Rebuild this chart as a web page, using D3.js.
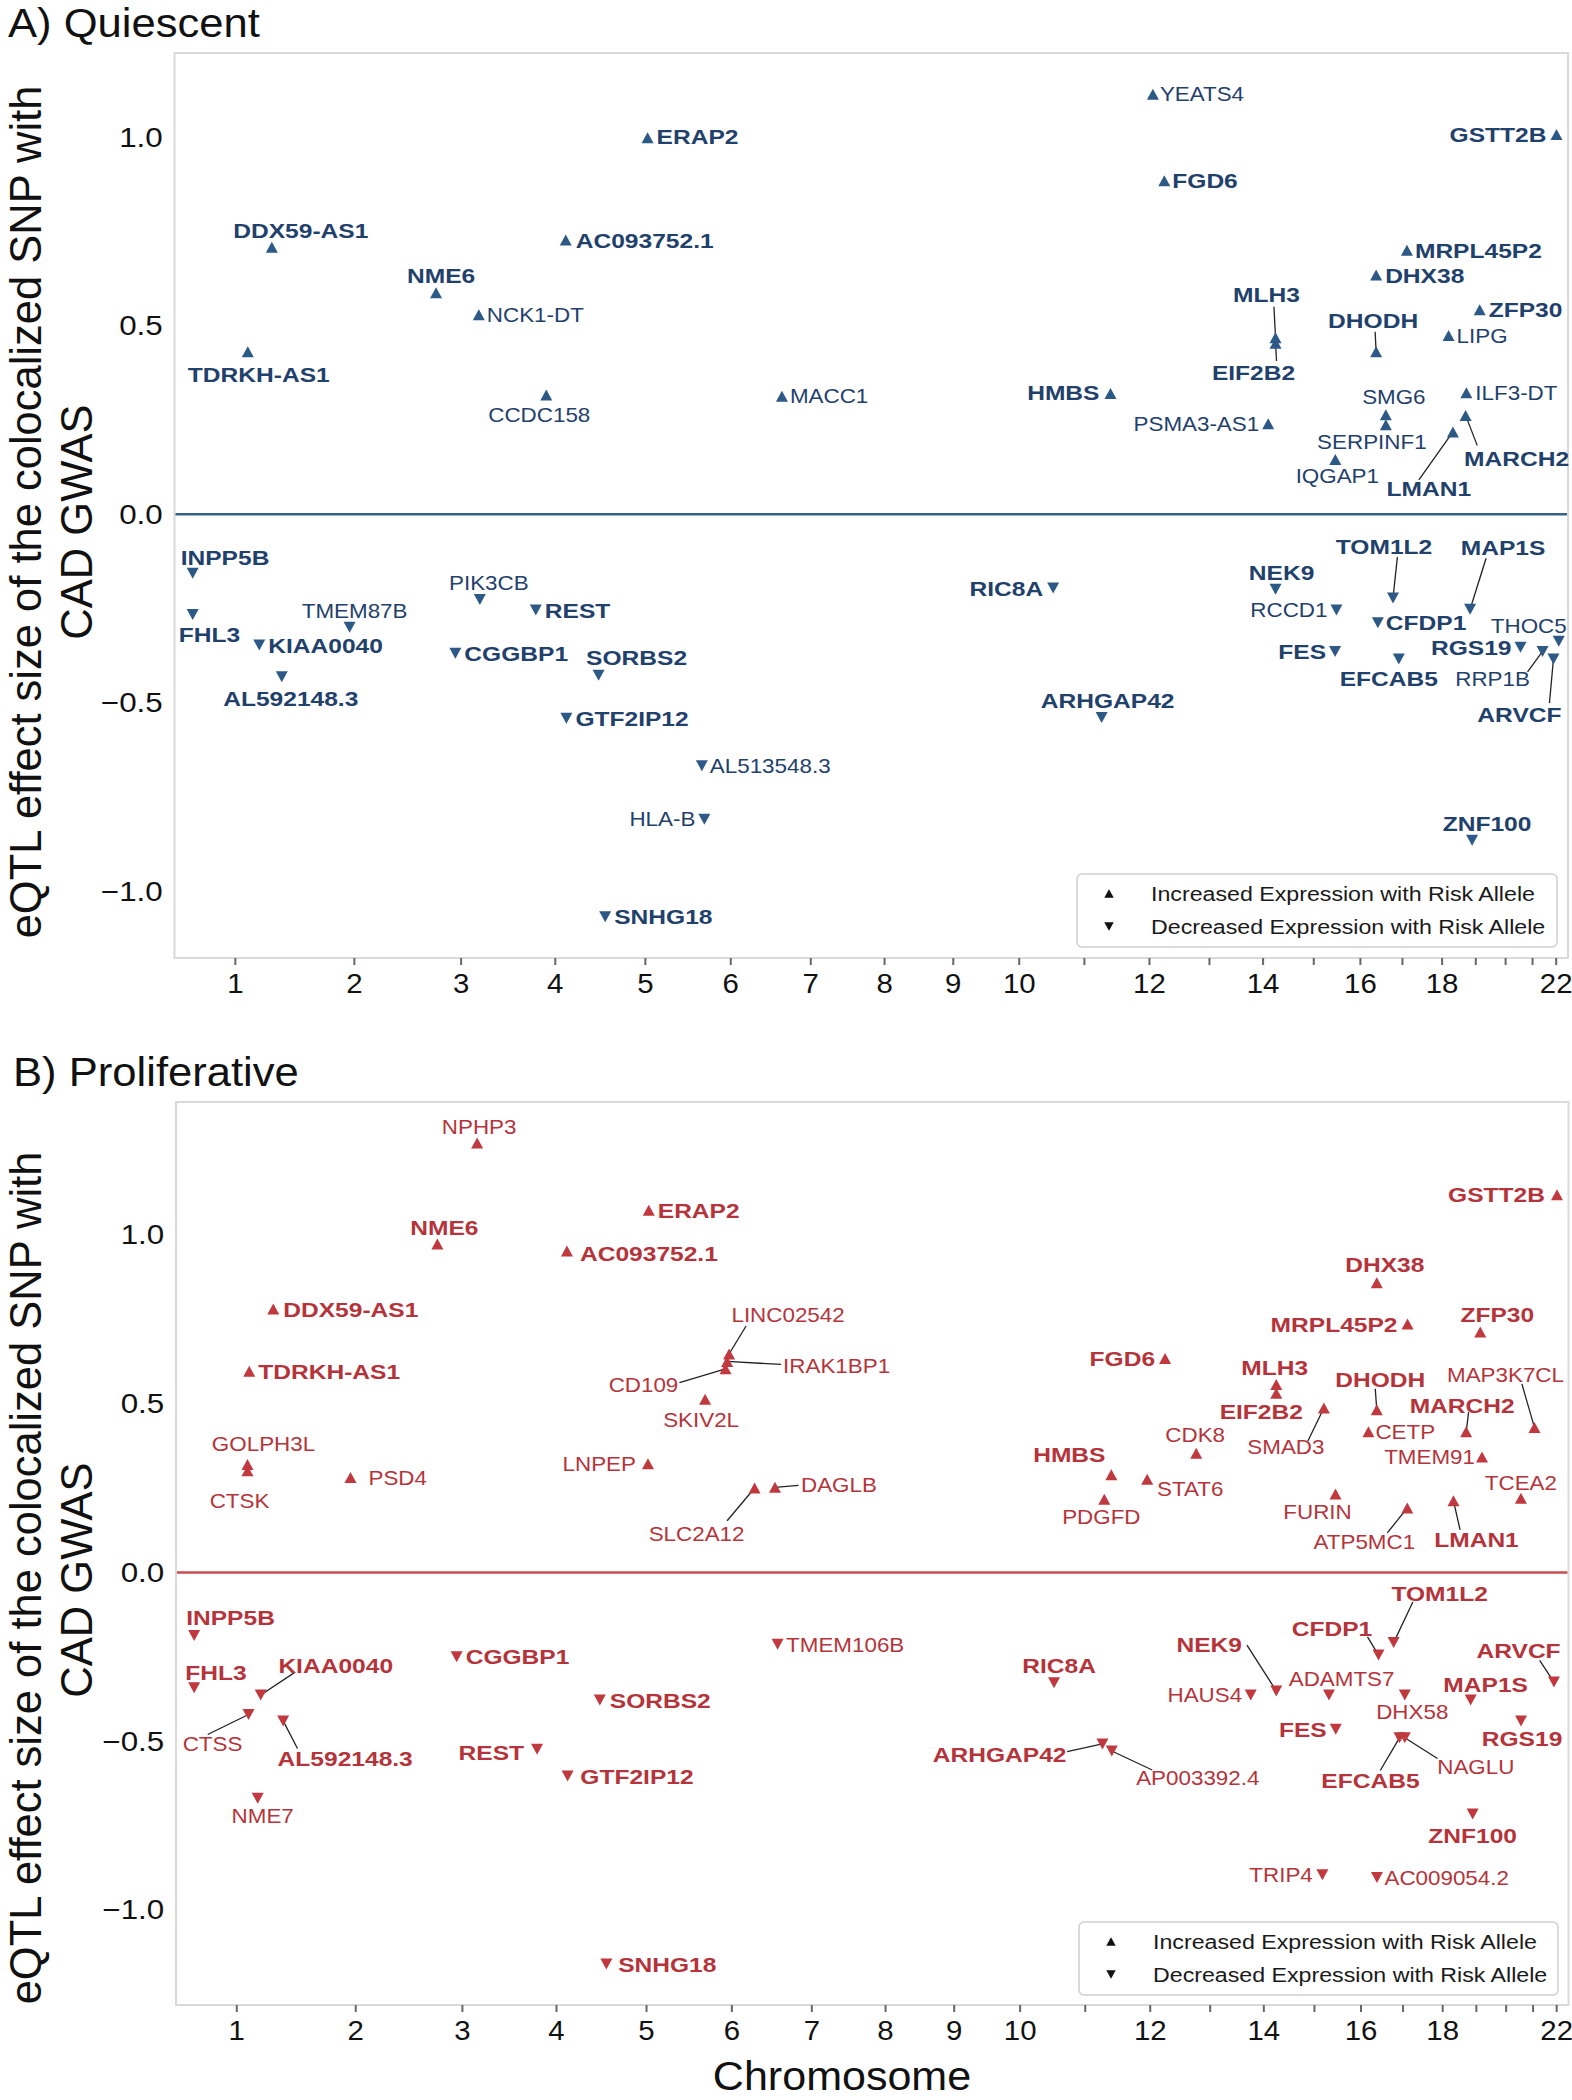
<!DOCTYPE html>
<html><head><meta charset="utf-8">
<script src="https://cdn.jsdelivr.net/npm/d3@7"></script>
<style>
html,body{margin:0;padding:0;background:#fff;}
svg{display:block;}
text{font-family:"Liberation Sans",Arial,Helvetica,sans-serif;}
</style></head><body>
<svg id="chart" width="1572" height="2100"></svg>
<script>
// ---------------- DATA ----------------
const chromosomes = d3.range(1, 23).map(String);
const chromLengthMb = [248.96,242.19,198.30,190.21,181.54,170.81,159.35,145.14,138.39,133.80,135.09,133.28,114.36,107.04,101.99,90.34,83.26,80.37,58.62,64.44,46.71,50.82];
const xTickLabels = ["1","2","3","4","5","6","7","8","9","10","","12","","14","","16","","18","","","","22"];
const yTickValues = [-1.0,-0.5,0.0,0.5,1.0];
const legendLabels = ["Increased Expression with Risk Allele","Decreased Expression with Risk Allele"];
const panelTitles = ["A) Quiescent","B) Proliferative"];
const yAxisTitle = ["eQTL effect size of the colocalized SNP with","CAD GWAS"];
const xAxisTitle = "Chromosome";

// gene, chromosome, position within chromosome (Mb)
const geneLoci = [
 ["INPP5B",1,37.5],["FHL3",1,37.5],["TDRKH-AS1",1,151.2],["KIAA0040",1,174.9],["DDX59-AS1",1,200.8],["AL592148.3",1,221.3],
 ["NME6",3,48.5],["CGGBP1",3,88.3],["REST",4,56.0],["AC093752.1",4,117.7],["GTF2IP12",4,119.1],["SORBS2",4,185.5],
 ["SNHG18",5,8.9],["ERAP2",5,96.4],["RIC8A",11,4.1],["ARHGAP42",11,104.1],["HMBS",11,122.4],["FGD6",12,98.3],
 ["MLH3",14,80.2],["EIF2B2",14,80.2],["NEK9",14,80.2],["FES",15,96.0],["DHX38",16,78.7],["DHODH",16,78.7],["CFDP1",16,82.3],
 ["TOM1L2",17,23.2],["EFCAB5",17,35.2],["MRPL45P2",17,51.9],["LMAN1",18,63.5],["MARCH2",19,9.3],["MAP1S",19,18.6],
 ["ZNF100",19,22.7],["ZFP30",19,38.4],["RGS19",20,64.0],["ARVCF",22,20.8],["GSTT2B",22,27.1],
 ["TMEM87B",2,112.3],["NCK1-DT",3,136.7],["PIK3CB",3,138.8],["CCDC158",4,77.6],["AL513548.3",6,26.8],["HLA-B",6,32.0],
 ["MACC1",7,21.2],["YEATS4",12,74.8],["PSMA3-AS1",14,65.0],["IQGAP1",15,96.5],["RCCD1",15,98.8],["SMG6",17,8.4],
 ["SERPINF1",17,8.4],["LIPG",18,54.6],["ILF3-DT",19,10.9],["RRP1B",21,45.0],["THOC5",22,31.8],
 ["GOLPH3L",1,147.6],["CTSK",1,147.6],["CTSS",1,149.7],["NME7",1,168.7],["PSD4",2,111.3],["NPHP3",3,130.6],
 ["LNPEP",5,94.8],["SKIV2L",6,31.2],["CD109",6,73.3],["IRAK1BP1",6,76.6],["LINC02542",6,80.7],["SLC2A12",6,133.4],
 ["DAGLB",7,4.7],["TMEM106B",7,10.1],["PDGFD",11,107.9],["AP003392.4",11,123.4],["STAT6",12,61.4],["CDK8",13,29.3],
 ["HAUS4",14,27.5],["TRIP4",15,68.4],["SMAD3",15,71.5],["ADAMTS7",15,82.0],["FURIN",15,95.5],["CETP",16,61.5],
 ["AC009054.2",16,79.1],["DHX58",17,46.2],["NAGLU",17,46.2],["ATP5MC1",17,51.4],["TMEM91",19,42.0],["TCEA2",20,63.7],
 ["MAP3K7CL",21,27.3]
];

// eQTL effect sizes (gene, beta)
const quiescentEffects = [
 ["DDX59-AS1",0.708],["TDRKH-AS1",0.431],["NME6",0.587],["NCK1-DT",0.529],["CCDC158",0.316],["AC093752.1",0.727],
 ["ERAP2",0.998],["MACC1",0.313],["YEATS4",1.114],["GSTT2B",1.007],["FGD6",0.884],["MRPL45P2",0.700],["DHX38",0.634],
 ["ZFP30",0.542],["LIPG",0.474],["MLH3",0.468],["EIF2B2",0.453],["DHODH",0.431],["HMBS",0.320],["PSMA3-AS1",0.240],
 ["SMG6",0.264],["SERPINF1",0.237],["ILF3-DT",0.322],["MARCH2",0.262],["LMAN1",0.218],["IQGAP1",0.145],
 ["INPP5B",-0.157],["FHL3",-0.266],["TMEM87B",-0.300],["KIAA0040",-0.347],["AL592148.3",-0.431],["PIK3CB",-0.226],
 ["REST",-0.254],["CGGBP1",-0.369],["SORBS2",-0.427],["GTF2IP12",-0.541],["AL513548.3",-0.667],["HLA-B",-0.809],
 ["SNHG18",-1.068],["RIC8A",-0.196],["ARHGAP42",-0.539],["NEK9",-0.199],["RCCD1",-0.254],["TOM1L2",-0.222],
 ["MAP1S",-0.252],["CFDP1",-0.288],["FES",-0.364],["EFCAB5",-0.384],["RGS19",-0.353],["RRP1B",-0.364],
 ["THOC5",-0.337],["ARVCF",-0.384],["ZNF100",-0.865]
];
const proliferativeEffects = [
 ["NPHP3",1.272],["ERAP2",1.073],["NME6",0.973],["AC093752.1",0.952],["DDX59-AS1",0.780],["TDRKH-AS1",0.596],
 ["LINC02542",0.647],["IRAK1BP1",0.625],["CD109",0.603],["SKIV2L",0.513],["GOLPH3L",0.320],["CTSK",0.301],
 ["PSD4",0.281],["LNPEP",0.322],["SLC2A12",0.250],["DAGLB",0.252],["GSTT2B",1.119],["DHX38",0.858],
 ["MRPL45P2",0.736],["ZFP30",0.712],["FGD6",0.634],["MLH3",0.557],["EIF2B2",0.531],["SMAD3",0.487],["DHODH",0.482],
 ["CETP",0.417],["MARCH2",0.417],["MAP3K7CL",0.429],["TMEM91",0.342],["CDK8",0.353],["HMBS",0.289],["STAT6",0.276],
 ["PDGFD",0.217],["FURIN",0.232],["ATP5MC1",0.191],["LMAN1",0.212],["TCEA2",0.220],
 ["INPP5B",-0.187],["FHL3",-0.342],["KIAA0040",-0.363],["CTSS",-0.421],["AL592148.3",-0.440],["NME7",-0.669],
 ["CGGBP1",-0.250],["SORBS2",-0.378],["REST",-0.524],["GTF2IP12",-0.603],["SNHG18",-1.160],["TMEM106B",-0.213],
 ["RIC8A",-0.327],["ARHGAP42",-0.508],["AP003392.4",-0.529],["NEK9",-0.351],["HAUS4",-0.363],["ADAMTS7",-0.363],
 ["FES",-0.465],["CFDP1",-0.245],["TOM1L2",-0.208],["DHX58",-0.363],["EFCAB5",-0.490],["NAGLU",-0.490],
 ["MAP1S",-0.378],["ARVCF",-0.325],["RGS19",-0.440],["ZNF100",-0.716],["TRIP4",-0.896],["AC009054.2",-0.904]
];

// ---------------- LABEL LAYOUT (pixel offsets from marker) ----------------
// [anchor, dx, dy, leaderDx, leaderDy]
const quiescentLabelLayout = {
 "DDX59-AS1":["m",29,-17],"TDRKH-AS1":["m",11,23],"NME6":["m",5,-17],"NCK1-DT":["s",8,0],"CCDC158":["m",-7,20],
 "AC093752.1":["s",10,0],"ERAP2":["s",9,-1],"MACC1":["s",8,0],"YEATS4":["s",7,0],"FGD6":["s",8,0],"GSTT2B":["e",-10,0],
 "MRPL45P2":["s",8,0],"DHX38":["s",9,0],"ZFP30":["s",9,0],"LIPG":["s",8,0],
 "MLH3":["m",-9,-43,-1.6,-31],"EIF2B2":["m",-22,29,1,17.7],"DHODH":["m",-3,-31,-1,-20],
 "HMBS":["e",-11,-1],"PSMA3-AS1":["e",-9,0],"SMG6":["m",8,-18],"SERPINF1":["m",-14,17],"ILF3-DT":["s",9,0],
 "MARCH2":["m",51,43,11.6,30],"LMAN1":["m",-24,56,-34,48],"IQGAP1":["m",2,16],
 "INPP5B":["s",-12,-16],"FHL3":["s",-14,20],"TMEM87B":["m",5,-16],"KIAA0040":["s",9,0],"AL592148.3":["m",9,22],
 "PIK3CB":["m",9,-17],"REST":["s",9,0],"CGGBP1":["s",9,0],"SORBS2":["m",38,-18],"GTF2IP12":["s",9,0],
 "AL513548.3":["s",8,0],"HLA-B":["e",-9,0],"SNHG18":["s",9,0],"RIC8A":["e",-10,0],"ARHGAP42":["m",6,-17],
 "NEK9":["m",6,-17],"RCCD1":["e",-9,0],"TOM1L2":["m",-9,-51,4.4,-41],"MAP1S":["m",33,-62,16,-51],"CFDP1":["s",8,0],
 "FES":["e",-9,0],"EFCAB5":["m",-10,19],"RGS19":["e",-9,0],"RRP1B":["m",-50,27,-15,20.5],"THOC5":["m",-30,-15],
 "ARVCF":["m",-34,55,-4,44],"ZNF100":["m",15,-17]
};
const proliferativeLabelLayout = {
 "NPHP3":["m",2,-16],"ERAP2":["s",9,0],"NME6":["m",7,-17],"AC093752.1":["s",13,2],"DDX59-AS1":["s",10,0],
 "TDRKH-AS1":["s",9,0],"LINC02542":["m",59,-39,17,-28],"IRAK1BP1":["s",56,4,54,3],"CD109":["m",-82,15.5,-46,13.7],
 "SKIV2L":["m",-4,21],"GOLPH3L":["m",16,-21],"CTSK":["m",-8,30],"PSD4":["s",18,0],"LNPEP":["e",-12,0],
 "SLC2A12":["m",-58,46,-27.5,32.7],"DAGLB":["s",26,-3,23.5,-2],"GSTT2B":["e",-12,0],"DHX38":["m",8,-18],
 "MRPL45P2":["e",-10,0],"ZFP30":["m",17,-18],"FGD6":["e",-10,0],"MLH3":["m",-1.5,-17],"EIF2B2":["m",-15,18],
 "SMAD3":["m",-38,39,-16,33],"DHODH":["m",3.5,-30,-1.5,-21],"CETP":["s",7,0],"MARCH2":["m",-4,-26.5,2.5,-19.5],
 "MAP3K7CL":["m",-29,-53,-12.6,-43.7],"TMEM91":["e",-7,0],"CDK8":["m",-1,-18],"HMBS":["m",-42,-20],
 "STAT6":["m",43,10],"PDGFD":["m",-3,18],"FURIN":["m",-18,18],"ATP5MC1":["m",-43,33.5,-20,25],
 "LMAN1":["m",23,38.6,6.6,29],"TCEA2":["m",0,-15.5],
 "INPP5B":["s",-8,-18],"FHL3":["s",-9,-15.5],"KIAA0040":["m",75,-29,33.7,-22.3],"CTSS":["m",-36,29,-40.8,20],
 "AL592148.3":["m",62,38,14.3,27.6],"NME7":["m",5,18],"CGGBP1":["s",9,0],"SORBS2":["s",10,0],"REST":["e",-13,3],
 "GTF2IP12":["s",12.7,0],"SNHG18":["s",11.8,0],"TMEM106B":["s",8.5,0],"RIC8A":["m",5,-17],
 "ARHGAP42":["e",-36,11,-35.3,7.8],"AP003392.4":["m",86,27,40.4,19],"NEK9":["m",-67,-46.5,-29.3,-45.8],
 "HAUS4":["e",-8.6,0],"ADAMTS7":["m",12.6,-16],"FES":["e",-9,0],"CFDP1":["m",-46.5,-27,-11,-18.3],
 "TOM1L2":["m",46,-49,19.2,-40.7],"DHX58":["m",7.5,17],"EFCAB5":["m",-29,43,-19.2,32.7],
 "NAGLU":["m",71,29,32.7,20.7],"MAP1S":["m",15,-16],"ARVCF":["m",-35.4,-32,-14.3,-21.7],"RGS19":["m",1,18],
 "ZNF100":["m",0,21],"TRIP4":["e",-9.6,0],"AC009054.2":["s",7.5,0]
};

// ---------------- DRAW ----------------
const svg = d3.select("#chart");
const chromStart = d3.cumsum([0, ...chromLengthMb]);   // starts; last = genome end
const genomeEnd = chromStart[chromStart.length - 1];
const chromMid = chromLengthMb.map((l, i) => chromStart[i] + l / 2);
const locus = new Map(geneLoci.map(d => [d[0], chromStart[d[1] - 1] + d[2]]));
const qSet = new Set(quiescentEffects.map(d => d[0]));
const shared = new Set(proliferativeEffects.map(d => d[0]).filter(g => qSet.has(g)));

const anchorMap = {s: "start", m: "middle", e: "end"};

function addText(parent, x, y, str, o) {
  return parent.append("text")
    .attr("transform", `translate(${x},${y}) scale(${o.sx || 1},1)`)
    .attr("text-anchor", o.anchor || "start")
    .attr("dy", o.dy == null ? "0.36em" : o.dy)
    .style("font-size", o.size + "px")
    .style("font-weight", o.weight || "normal")
    .attr("fill", o.fill || "#111")
    .text(str);
}
function tri(w, h, up) {
  return up ? `M0,${-h/2}L${w/2},${h/2}L${-w/2},${h/2}Z` : `M0,${h/2}L${w/2},${-h/2}L${-w/2},${-h/2}Z`;
}

function drawPanel(p) {
  const g = svg.append("g");
  const x = d3.scaleLinear().domain([0, genomeEnd]).range([p.left, p.right]);
  const ext = d3.extent(p.effects, d => d[1]);
  const pad = (ext[1] - ext[0]) * 0.05;
  const y = d3.scaleLinear().domain([ext[0] - pad, ext[1] + pad]).range([p.bottom, p.top]);

  // frame
  g.append("rect").attr("x", p.left).attr("y", p.top)
    .attr("width", p.right - p.left).attr("height", p.bottom - p.top)
    .attr("fill", "#fff").attr("stroke", "#d9d9d9").attr("stroke-width", 2);

  // x axis
  const xAxis = d3.axisBottom(x).tickValues(chromMid).tickFormat((d, i) => xTickLabels[i])
    .tickSize(7).tickPadding(p.xPad);
  const xa = g.append("g").attr("transform", `translate(0,${p.bottom})`).call(xAxis);
  xa.select(".domain").remove();
  xa.selectAll(".tick line").attr("stroke", "#666").attr("stroke-width", 2);
  xa.selectAll(".tick text").style("font-size", "28px").attr("fill", "#111")
    .attr("transform", "scale(1.05,1)").style("font-family", '"Liberation Sans",Arial,sans-serif');

  // y axis
  const yAxis = d3.axisLeft(y).tickValues(yTickValues).tickFormat(d3.format(".1f")).tickSize(0).tickPadding(10.5);
  const ya = g.append("g").attr("transform", `translate(${p.left},0)`).call(yAxis);
  ya.select(".domain").remove();
  ya.selectAll(".tick text").style("font-size", "28px").attr("fill", "#111")
    .attr("transform", "scale(1.12,1)").style("font-family", '"Liberation Sans",Arial,sans-serif');

  // zero line
  g.append("line").attr("x1", p.left + 1).attr("x2", p.right - 1)
    .attr("y1", y(0)).attr("y2", y(0)).attr("stroke", p.lineColor).attr("stroke-width", 2.5);

  const pts = p.effects.map(([gene, beta]) => ({gene, beta, px: x(locus.get(gene)), py: y(beta),
    bold: shared.has(gene), lay: p.layout[gene]}));

  // leader lines
  g.append("g").selectAll("line").data(pts.filter(d => d.lay && d.lay.length > 3)).join("line")
    .attr("x1", d => d.px + d.lay[3]).attr("y1", d => d.py + d.lay[4])
    .attr("x2", d => d.px).attr("y2", d => d.py)
    .attr("stroke", "#222").attr("stroke-width", 1.3);

  // markers
  g.append("g").selectAll("path").data(pts).join("path")
    .attr("transform", d => `translate(${d.px},${d.py})`)
    .attr("d", d => tri(12, 11, d.beta > 0))
    .attr("fill", p.markerColor);

  // labels
  const lg = g.append("g");
  pts.forEach(d => {
    const l = d.lay || ["s", 8, 0];
    addText(lg, d.px + l[1], d.py + l[2], d.gene, {
      anchor: anchorMap[l[0]], size: d.bold ? 21 : 20, weight: d.bold ? "bold" : "normal",
      sx: d.bold ? 1.17 : 1.12, fill: p.textColor
    });
  });

  // legend
  const L = p.legend;
  g.append("rect").attr("x", L.x).attr("y", L.y).attr("width", L.w).attr("height", L.h)
    .attr("rx", 5).attr("fill", "#fff").attr("stroke", "#d0d0d0").attr("stroke-width", 1.5);
  legendLabels.forEach((t, i) => {
    const cy = L.y + 19.5 + i * 33;
    g.append("path").attr("transform", `translate(${L.x + 32},${cy})`).attr("d", tri(9.5, 8.5, i === 0)).attr("fill", "#111");
    addText(g, L.x + 74, cy, t, {size: 20, sx: 1.16, fill: "#1a1a1a"});
  });

  // panel title
  addText(svg, p.titleX, p.titleY, p.title, {size: 40, sx: 1.09, dy: 0, fill: "#111"});

  // y axis title (two lines)
  yAxisTitle.forEach((t, i) => {
    svg.append("text")
      .attr("transform", `translate(${40.5 + i * 51},${p.yTitleCenters[i]}) rotate(-90)`)
      .attr("text-anchor", "middle").style("font-size", "43.5px").attr("fill", "#111").text(t);
  });
}

drawPanel({
  effects: quiescentEffects, layout: quiescentLabelLayout,
  left: 174.5, right: 1568, top: 53, bottom: 958, xPad: 8,
  markerColor: "#2c5985", textColor: "#1f416b", lineColor: "#35618c",
  legend: {x: 1077, y: 874, w: 480, h: 73},
  title: panelTitles[0], titleX: 8, titleY: 37, yTitleCenters: [512, 522]
});
drawPanel({
  effects: proliferativeEffects, layout: proliferativeLabelLayout,
  left: 176, right: 1568.5, top: 1102, bottom: 2005, xPad: 8.5,
  markerColor: "#c0393f", textColor: "#b5343b", lineColor: "#c84c51",
  legend: {x: 1079, y: 1922, w: 479, h: 73},
  title: panelTitles[1], titleX: 13, titleY: 1086, yTitleCenters: [1578, 1580]
});

addText(svg, 842, 2090, xAxisTitle, {size: 41, sx: 1.05, anchor: "middle", dy: 0, fill: "#111"});
</script></body></html>
